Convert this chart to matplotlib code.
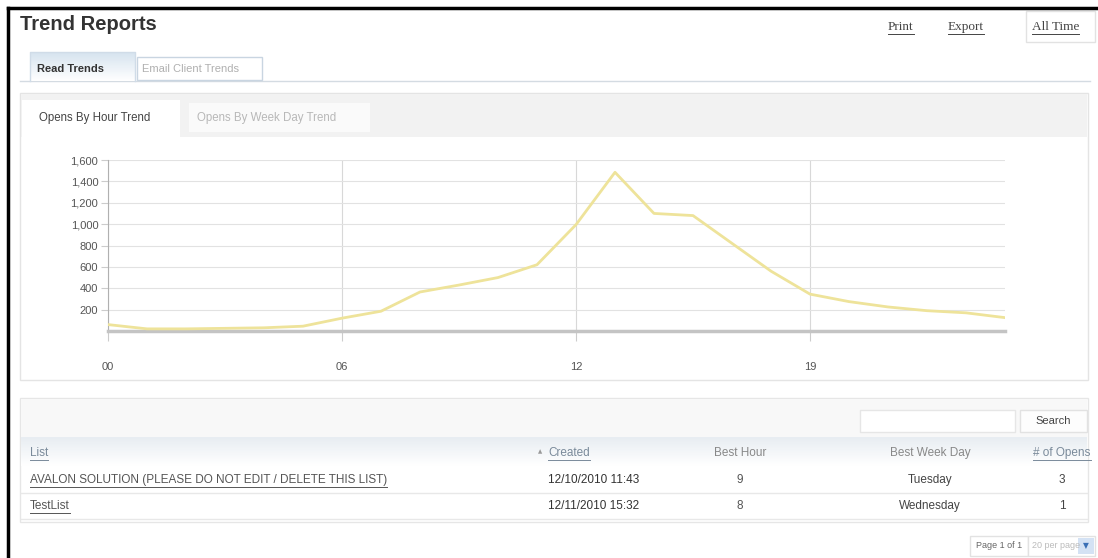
import matplotlib
matplotlib.use('Agg')
import matplotlib.pyplot as plt
from matplotlib.patches import Rectangle
import numpy as np

W, H = 1098, 558

# opens per hour of day
hours = list(range(24))
opens = [60, 20, 20, 25, 30, 45, 120, 185, 365, 430, 500, 620,
         995, 1485, 1100, 1080, 820, 560, 345, 275, 225, 190, 170, 125]

y_ticks = [200, 400, 600, 800, 1000, 1200, 1400, 1600]
y_labels = ['200', '400', '600', '800', '1,000', '1,200', '1,400', '1,600']
x_ticks = [0, 6, 12, 18]
x_labels = ['00', '06', '12', '19']

# table below the chart
col_names = ['List', 'Created', 'Best Hour', 'Best Week Day', '# of Opens']
list_names = ['AVALON SOLUTION (PLEASE DO NOT EDIT / DELETE THIS LIST)', 'TestList']
created = ['12/10/2010 11:43', '12/11/2010 15:32']
best_hour = ['9', '8']
best_day = ['Tuesday', 'Wednesday']
n_opens = ['3', '1']

FONT = 'Liberation Sans'

fig = plt.figure(figsize=(W / 100, H / 100), dpi=100)
bg = fig.add_axes([0, 0, 1, 1])
bg.set_xlim(0, W)
bg.set_ylim(H, 0)
bg.axis('off')

underlined = []


def box(x0, y0, x1, y1, fc='white', ec='none', lw=1, z=1):
    bg.add_patch(Rectangle((x0, y0), x1 - x0, y1 - y0, facecolor=fc,
                           edgecolor=ec, linewidth=lw, zorder=z))


def gradient(x0, y0, x1, y1, c_top, c_bot, z=1):
    a = np.array(matplotlib.colors.to_rgb(c_top))
    b = np.array(matplotlib.colors.to_rgb(c_bot))
    t = np.linspace(0, 1, 32)[:, None, None]
    img = a * (1 - t) + b * t
    bg.imshow(img, extent=(x0, x1, y1, y0), aspect='auto', zorder=z,
              interpolation='bilinear')


def txt(x, y, s, size=8.5, color='#555555', ha='left', weight='normal',
        family=FONT, ul=False, z=5):
    t = bg.text(x, y, s, fontsize=size, color=color, ha=ha, va='center',
                fontweight=weight, family=family, zorder=z)
    if ul:
        underlined.append(t)
    return t


# outer frame
bg.plot([8, 8], [8, H], color='black', lw=2.5, zorder=10)
bg.plot([8, W], [8, 8], color='black', lw=2.5, zorder=10)

# header
txt(20, 24, 'Trend Reports', size=14.5, color='#333333', weight='bold')
txt(888, 27, 'Print', size=9.5, color='#444444', family='Liberation Serif', ul=True)
txt(948, 27, 'Export', size=9.5, color='#444444', family='Liberation Serif', ul=True)
box(1026, 11, 1095, 42, fc='white', ec='#e2e2e2')
txt(1032, 27, 'All Time', size=9.5, color='#444444', family='Liberation Serif', ul=True)

# top tabs
bg.plot([20, 1090], [81, 81], color='#d4dbe2', lw=1, zorder=2)
gradient(30, 52, 135, 81, '#d6e3ef', '#ffffff', z=2)
bg.plot([30, 30, 135, 135], [81, 52, 52, 81], color='#d0dce8', lw=1, zorder=3)
txt(37, 69, 'Read Trends', size=8, color='#333333', weight='bold')
box(137, 57, 262, 80, fc='white', ec='#c9d5e1', z=2)
txt(142, 69, 'Email Client Trends', size=8, color='#b0b0b0')

# chart panel
box(20, 93, 1088, 380, fc='white', ec='#e4e4e4', z=1)
box(21, 94, 1087, 137, fc='#f2f2f2', z=1)
box(22, 100, 180, 138, fc='white', z=2)
txt(39, 118, 'Opens By Hour Trend', size=8.3, color='#444444')
box(189, 103, 370, 132, fc='#fafafa', z=2)
txt(197, 118, 'Opens By Week Day Trend', size=8.3, color='#b8b8b8')

# table panel
box(20, 398, 1088, 522, fc='white', ec='#e6e6e6', z=1)
box(21, 399, 1087, 437, fc='#f8f8f8', z=1)
box(860, 410, 1015, 432, fc='white', ec='#e6e6e6', z=2)
box(1020, 410, 1087, 432, fc='#fdfdfd', ec='#e2e2e2', z=2)
txt(1053, 421, 'Search', size=8, color='#444444', ha='center')
gradient(21, 437, 1087, 466, '#e8edf2', '#ffffff', z=2)

cx = [30, 548, 740, 930, 1062]
hy = 453
txt(cx[0], hy, col_names[0], color='#7a8a9a', ul=True)
txt(540, hy - 1, '\u25b2', size=4, color='#999999', ha='center', family='DejaVu Sans')
txt(cx[1], hy, col_names[1], color='#7a8a9a', ul=True)
txt(cx[2], hy, col_names[2], color='#888888', ha='center')
txt(cx[3], hy, col_names[3], color='#888888', ha='center')
txt(cx[4], hy, col_names[4], color='#7a8a9a', ha='center', ul=True)

for i in range(len(list_names)):
    ry = 480 + i * 26
    txt(cx[0], ry, list_names[i], color='#555555', ul=True)
    txt(cx[1], ry, created[i], size=8.5, color='#333333')
    txt(cx[2], ry, best_hour[i], color='#555555', ha='center')
    txt(cx[3], ry, best_day[i], color='#444444', ha='center')
    txt(cx[4], ry, n_opens[i], color='#444444', ha='center')
    bg.plot([21, 1087], [ry + 13, ry + 13], color='#e8e8e8', lw=1, zorder=2)

# pager
box(970, 536, 1028, 556, fc='white', ec='#e2e2e2', z=2)
txt(999, 546, 'Page 1 of 1', size=6.5, color='#666666', ha='center')
box(1028, 536, 1095, 556, fc='white', ec='#e2e2e2', z=2)
txt(1032, 546, '20 per page', size=6.5, color='#bbbbbb')
box(1078, 538, 1094, 554, fc='#d4e2f4', z=3)
txt(1086, 546, '\u25bc', size=5.5, color='#3a6fb5', ha='center', family='DejaVu Sans')

# the chart itself
x0, x1, y0, y1 = 108, 1005, 160, 331
ax = fig.add_axes([x0 / W, 1 - y1 / H, (x1 - x0) / W, (y1 - y0) / H])
ax.set_facecolor('none')
ax.plot(hours, opens, color='#eee39a', lw=2, solid_joinstyle='round', zorder=3)
ax.set_xlim(0, 23)
ax.set_ylim(0, 1600)
ax.set_yticks(y_ticks)
ax.set_yticklabels(y_labels)
ax.set_xticks(x_ticks)
ax.set_xticklabels(x_labels)
ax.grid(axis='y', color='#e2e2e2', lw=0.8)
ax.grid(axis='x', color='#d8d8d8', lw=0.8)
for s in ['top', 'right']:
    ax.spines[s].set_visible(False)
ax.spines['left'].set_color('#b0b0b0')
ax.spines['bottom'].set_color('#c4c4c4')
ax.spines['bottom'].set_linewidth(2.5)
ax.tick_params(axis='y', length=5, color='#cccccc', labelsize=8,
               labelcolor='#555555', pad=2)
ax.tick_params(axis='x', length=7, color='#cccccc', labelsize=8,
               labelcolor='#555555', pad=15)
for lab in ax.get_xticklabels() + ax.get_yticklabels():
    lab.set_family(FONT)

# underline link texts
fig.canvas.draw()
inv = bg.transData.inverted()
for t in underlined:
    bb = t.get_window_extent()
    (a, b), (c, d) = inv.transform([[bb.x0, bb.y0], [bb.x1, bb.y1]])
    bg.plot([a, c], [b + 0.5, b + 0.5], color=t.get_color(), lw=0.7, zorder=5)

fig.savefig('out.png', dpi=100)
